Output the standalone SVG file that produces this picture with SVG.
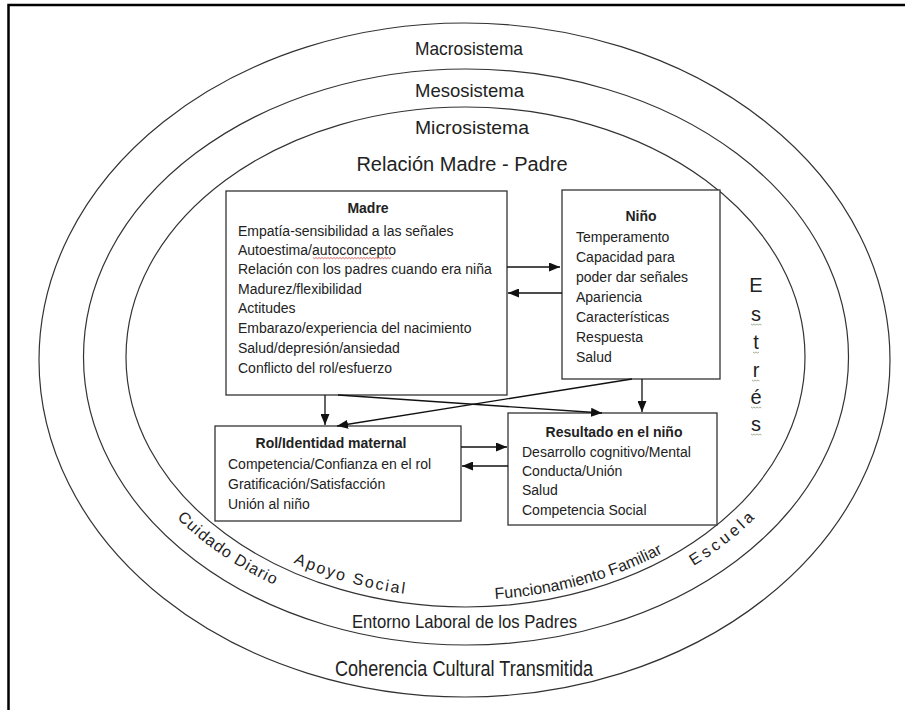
<svg xmlns="http://www.w3.org/2000/svg" width="907" height="710" viewBox="0 0 907 710">
<style>
  text { font-family: "Liberation Sans", Arial, sans-serif; fill: #222; }
  .ring { fill: none; stroke: #333; stroke-width: 1.2; }
  .box { fill: #fff; stroke: #333; stroke-width: 1.3; }
  .t { font-size: 14px; }
  .b { font-size: 14px; font-weight: bold; }
  .sys { font-size: 19px; }
  .curve { font-size: 16px; }
  .conn { stroke: #111; stroke-width: 1.3; fill: none; marker-end: url(#ah); }
  .frame { stroke: #000; stroke-width: 2.5; fill: none; }
  .sq { fill: none; stroke-width: 0.8; }
  .est { font-size: 20px; }
</style>
<defs>
  <marker id="ah" markerWidth="11" markerHeight="9" refX="11" refY="4.5" orient="auto" markerUnits="userSpaceOnUse">
    <path d="M0,0 L11,4.5 L0,9 Z" fill="#111"/>
  </marker>
  <path id="p-cuid" d="M153.4,491.5 A361,269 0 0 0 307.7,598.8"/>
  <path id="p-apoyo" d="M271.2,552 A330.5,241 0 0 0 431,596.7"/>
  <path id="p-func" d="M465.5,600 A333,243 0 0 0 688.3,537.6"/>
  <path id="p-esc" d="M646.5,590 A361,269 0 0 0 790.5,474.9"/>
</defs>
<rect x="0" y="0" width="907" height="710" fill="#fff"/>
<path class="frame" d="M8.5,710 V5 H905"/>

<g id="rings">
  <ellipse class="ring" cx="464.5" cy="360" rx="425.5" ry="337"/>
  <ellipse class="ring" cx="466" cy="357" rx="382.5" ry="288"/>
  <ellipse class="ring" cx="465.5" cy="357" rx="339.5" ry="250"/>
</g>

<g id="system-labels">
  <text class="sys" x="469" y="55" text-anchor="middle" textLength="108" lengthAdjust="spacingAndGlyphs">Macrosistema</text>
  <text class="sys" x="469.5" y="97" text-anchor="middle" textLength="109" lengthAdjust="spacingAndGlyphs">Mesosistema</text>
  <text class="sys" x="472" y="134" text-anchor="middle" textLength="114" lengthAdjust="spacingAndGlyphs">Microsistema</text>
  <text x="462" y="171" text-anchor="middle" font-size="20">Relación Madre - Padre</text>
</g>

<g id="madre">
  <rect class="box" x="226" y="191" width="281" height="204"/>
  <text class="b" x="368" y="213" text-anchor="middle">Madre</text>
  <text class="t" x="238" y="235.5">Empatía-sensibilidad  a las señales</text>
  <text class="t" x="238" y="255">Autoestima/autoconcepto</text>
  <text class="t" x="238" y="274">Relación con los padres cuando era niña</text>
  <text class="t" x="238" y="293.5">Madurez/flexibilidad</text>
  <text class="t" x="238" y="313">Actitudes</text>
  <text class="t" x="238" y="333">Embarazo/experiencia del nacimiento</text>
  <text class="t" x="238" y="353">Salud/depresión/ansiedad</text>
  <text class="t" x="238" y="373">Conflicto del rol/esfuerzo</text>
  <path class="sq" stroke="#d04040" d="M313,257.5 l1.5,1.2 l1.5,-1.2 l1.5,1.2 l1.5,-1.2 l1.5,1.2 l1.5,-1.2 l1.5,1.2 l1.5,-1.2 l1.5,1.2 l1.5,-1.2 l1.5,1.2 l1.5,-1.2 l1.5,1.2 l1.5,-1.2 l1.5,1.2 l1.5,-1.2 l1.5,1.2 l1.5,-1.2 l1.5,1.2 l1.5,-1.2 l1.5,1.2 l1.5,-1.2 l1.5,1.2 l1.5,-1.2 l1.5,1.2 l1.5,-1.2 l1.5,1.2 l1.5,-1.2 l1.5,1.2 l1.5,-1.2 l1.5,1.2 l1.5,-1.2 l1.5,1.2 l1.5,-1.2 l1.5,1.2 l1.5,-1.2 l1.5,1.2 l1.5,-1.2 l1.5,1.2 l1.5,-1.2 l1.5,1.2 l1.5,-1.2 l1.5,1.2 l1.5,-1.2 l1.5,1.2 l1.5,-1.2 l1.5,1.2 l1.5,-1.2 l1.5,1.2 l1.5,-1.2 l1.5,1.2 l1.5,-1.2"/>
</g>

<g id="nino">
  <rect class="box" x="562" y="190" width="158" height="189"/>
  <text class="b" x="641" y="221" text-anchor="middle">Niño</text>
  <text class="t" x="576" y="242">Temperamento</text>
  <text class="t" x="576" y="262">Capacidad para</text>
  <text class="t" x="576" y="282">poder dar señales</text>
  <text class="t" x="576" y="302">Apariencia</text>
  <text class="t" x="576" y="322">Características</text>
  <text class="t" x="576" y="342">Respuesta</text>
  <text class="t" x="576" y="362">Salud</text>
</g>

<g id="rol">
  <rect class="box" x="215" y="426" width="246" height="95"/>
  <text class="b" x="331" y="448" text-anchor="middle">Rol/Identidad maternal</text>
  <text class="t" x="228" y="469">Competencia/Confianza  en el rol</text>
  <text class="t" x="228" y="489">Gratificación/Satisfacción</text>
  <text class="t" x="228" y="509">Unión al niño</text>
</g>

<g id="resultado">
  <rect class="box" x="508" y="413" width="209" height="112"/>
  <text class="b" x="614" y="437" text-anchor="middle">Resultado en el niño</text>
  <text class="t" x="522" y="457">Desarrollo cognitivo/Mental</text>
  <text class="t" x="522" y="476">Conducta/Unión</text>
  <text class="t" x="522" y="495">Salud</text>
  <text class="t" x="522" y="515">Competencia Social</text>
</g>

<g id="estres">
  <text class="est" x="756" y="292" text-anchor="middle">E</text>
  <text class="est" x="756" y="321" text-anchor="middle">s</text>
  <text class="est" x="756" y="349" text-anchor="middle">t</text>
  <text class="est" x="756" y="377" text-anchor="middle">r</text>
  <text class="est" x="756" y="404" text-anchor="middle">é</text>
  <text class="est" x="756" y="431" text-anchor="middle">s</text>
  <g stroke="#8a9a78">
    <path class="sq" d="M751,324 l1.5,1 l1.5,-1 l1.5,1 l1.5,-1 l1.5,1 l1.5,-1 l1.5,1"/>
    <path class="sq" d="M753,352 l1.5,1 l1.5,-1 l1.5,1 l1.5,-1"/>
    <path class="sq" d="M752,380 l1.5,1 l1.5,-1 l1.5,1 l1.5,-1 l1.5,1"/>
    <path class="sq" d="M751,407 l1.5,1 l1.5,-1 l1.5,1 l1.5,-1 l1.5,1 l1.5,-1 l1.5,1"/>
    <path class="sq" d="M751,434 l1.5,1 l1.5,-1 l1.5,1 l1.5,-1 l1.5,1 l1.5,-1 l1.5,1"/>
  </g>
</g>

<g id="context-labels">
  <text class="curve" letter-spacing="1"><textPath href="#p-cuid" startOffset="50%" text-anchor="middle">Cuidado Diario</textPath></text>
  <text class="curve" font-size="15" letter-spacing="2"><textPath href="#p-apoyo" startOffset="50%" text-anchor="middle">Apoyo Social</textPath></text>
  <text class="curve"><textPath href="#p-func" startOffset="50%" text-anchor="middle">Funcionamiento Familiar</textPath></text>
  <text class="curve" font-size="15" letter-spacing="3.5"><textPath href="#p-esc" startOffset="50%" text-anchor="middle">Escuela</textPath></text>
  <text x="352" y="628" font-size="19" textLength="225" lengthAdjust="spacingAndGlyphs">Entorno Laboral de los Padres</text>
  <text x="335" y="676" font-size="22" textLength="258" lengthAdjust="spacingAndGlyphs">Coherencia Cultural Transmitida</text>
</g>

<g id="connectors">
  <path class="conn" d="M507,267 H560"/>
  <path class="conn" d="M562,293 H508"/>
  <path class="conn" d="M325,395 V425"/>
  <path class="conn" d="M632,379 L337,426"/>
  <path class="conn" d="M338,395 L602,413"/>
  <path class="conn" d="M642,379 V412"/>
  <path class="conn" d="M461,447 H507"/>
  <path class="conn" d="M508,466 H462"/>
</g>
</svg>
